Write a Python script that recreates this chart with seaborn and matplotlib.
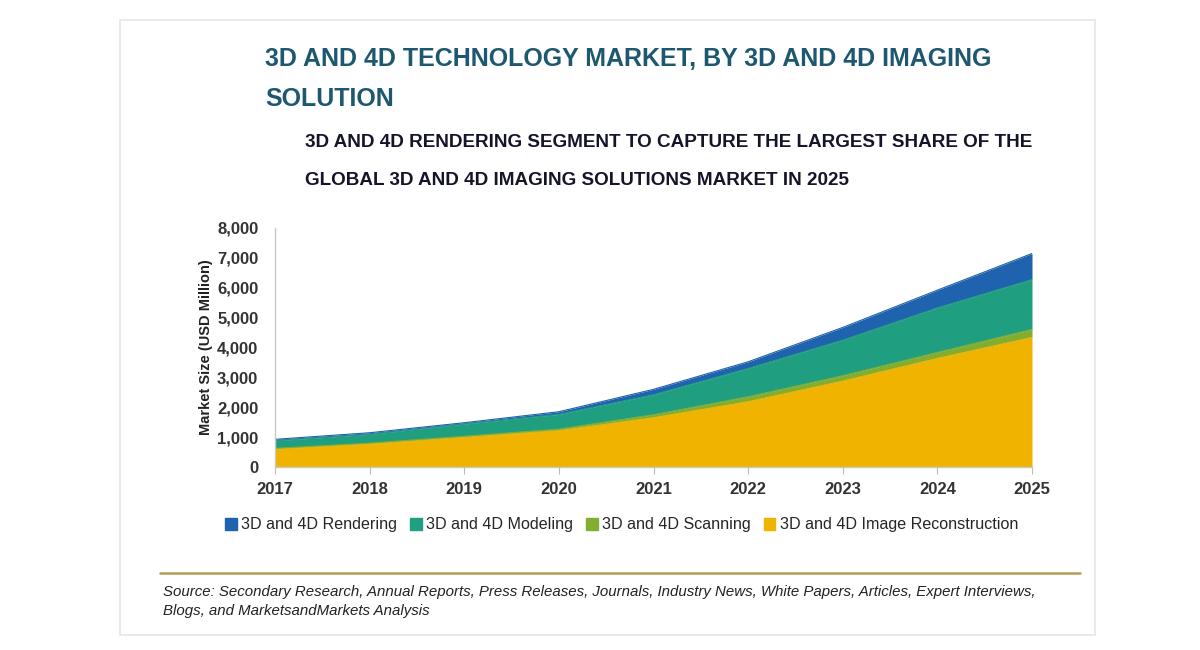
import matplotlib
matplotlib.use("Agg")
import matplotlib.pyplot as plt
import seaborn as sns
import numpy as np
import pandas as pd
from matplotlib.patches import Rectangle
from matplotlib.lines import Line2D

years = [2017, 2018, 2019, 2020, 2021, 2022, 2023, 2024, 2025]
image_reconstruction = [600, 770, 990, 1215, 1650, 2185, 2876, 3635, 4337]
scanning = [25, 30, 40, 55, 100, 166, 180, 200, 268]
modeling = [255, 293, 408, 492, 670, 949, 1192, 1493, 1671]
rendering = [46, 54, 44, 88, 180, 222, 424, 592, 870]

series_names = ["3D and 4D Rendering", "3D and 4D Modeling", "3D and 4D Scanning", "3D and 4D Image Reconstruction"]
colors = {"3D and 4D Rendering": "#1f62ad",
          "3D and 4D Modeling": "#1f9e80",
          "3D and 4D Scanning": "#82ad2f",
          "3D and 4D Image Reconstruction": "#f0b400"}
y_ticks = [0, 1000, 2000, 3000, 4000, 5000, 6000, 7000, 8000]

title = "3D AND 4D TECHNOLOGY MARKET, BY 3D AND 4D IMAGING\nSOLUTION"
subtitle = "3D AND 4D RENDERING SEGMENT TO CAPTURE THE LARGEST SHARE OF THE\nGLOBAL 3D AND 4D IMAGING SOLUTIONS MARKET IN 2025"
source = ("Source: Secondary Research, Annual Reports, Press Releases, Journals, Industry News, White Papers, Articles, Expert Interviews,\n"
          "Blogs, and MarketsandMarkets Analysis")

sns.set_theme(style="white")
plt.rcParams['font.family'] = ['Liberation Sans', 'DejaVu Sans']

df = pd.DataFrame({"Year": years,
                   "3D and 4D Image Reconstruction": image_reconstruction,
                   "3D and 4D Scanning": scanning,
                   "3D and 4D Modeling": modeling,
                   "3D and 4D Rendering": rendering})

fig = plt.figure(figsize=(12, 6.5), dpi=100)
fig.patch.set_facecolor("white")
fig.add_artist(Rectangle((120/1200, 1 - 635/650), (1095-120)/1200, (635-20)/650,
                         transform=fig.transFigure, fill=False, edgecolor="#e6e6e6", lw=1.2))

ax = fig.add_axes([275/1200, 1 - 467/650, (1032-275)/1200, (467-228)/650])

order = ["3D and 4D Image Reconstruction", "3D and 4D Scanning", "3D and 4D Modeling", "3D and 4D Rendering"]
ax.stackplot(df["Year"], *[df[c] for c in order], colors=[colors[c] for c in order], linewidth=0)
cum = df[order].cumsum(axis=1)
cum["Year"] = df["Year"]
for c in order:
    sns.lineplot(x="Year", y=c, data=cum, ax=ax, color=colors[c], lw=0.8, legend=False)

ax.set_xlim(2017, 2025)
ax.set_ylim(0, 8000)
ax.set_yticks(y_ticks)
ax.set_yticklabels([f"{v:,}" for v in y_ticks])
ax.set_xticks(years)
ax.set_xticklabels([str(y) for y in years])
ax.set_xlabel("")
ax.set_ylabel("Market Size (USD Million)", fontsize=10.5, fontweight="bold", color="#222222", labelpad=3)
for lab in ax.get_xticklabels() + ax.get_yticklabels():
    lab.set_fontsize(12)
    lab.set_fontweight("bold")
    lab.set_color("#333333")
ax.tick_params(axis="x", bottom=True, length=5, width=0.8, color="#bbbbbb", pad=6)
ax.tick_params(axis="y", left=False, pad=6)
for s in ["top", "right"]:
    ax.spines[s].set_visible(False)
for s in ["left", "bottom"]:
    ax.spines[s].set_color("#c8c8c8")
    ax.spines[s].set_linewidth(1.0)

fig.text(265/1200, 1 - 47/650, title, ha="left", va="top", fontsize=18, fontweight="bold",
         color="#1d5870", linespacing=1.85)
fig.text(305/1200, 1 - 134/650, subtitle, ha="left", va="top", fontsize=13.6, fontweight="bold",
         color="#15152a", linespacing=2.6)

handles = [Rectangle((0, 0), 1, 1, color=colors[n]) for n in series_names]
fig.legend(handles, series_names, loc="center", bbox_to_anchor=(622/1200, 1 - 525/650), ncol=4,
           frameon=False, handlelength=0.7, handleheight=0.7, handletextpad=0.3,
           columnspacing=0.8, prop={"size": 11.6})

fig.add_artist(Line2D([160/1200, 1080/1200], [1 - 573/650, 1 - 573/650], transform=fig.transFigure,
                      color="#b89b55", lw=1.8))
fig.text(163/1200, 1 - 585/650, source, ha="left", va="top", fontsize=10.8, style="italic",
         color="#222222", linespacing=1.45)

fig.savefig("out.png", dpi=100, facecolor="white")
